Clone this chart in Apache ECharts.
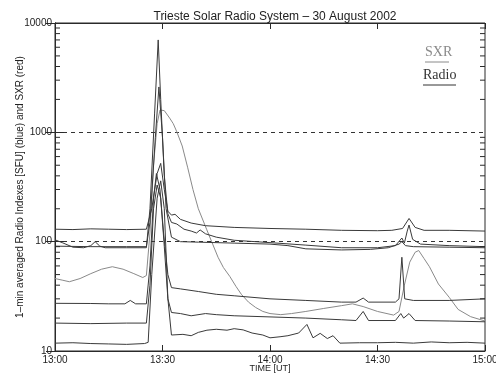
<!DOCTYPE html>
<html>
<head>
<meta charset="utf-8">
<script src="https://cdn.jsdelivr.net/npm/echarts@6/dist/echarts.min.js"></script>
<style>
  html, body { margin: 0; padding: 0; background: #ffffff; }
  #chart { width: 496px; height: 377px; }
</style>
</head>
<body>
<div id="chart"></div>
<script>
// Time is counted in minutes after 13:00 UT; values are flux in SFU.
const xTicks = ['13:00', '13:30', '14:00', '14:30', '15:00'];
const yTicks = [10, 100, 1000, 10000];
const minorTickValues = [20, 30, 40, 50, 60, 70, 80, 90, 200, 300, 400, 500, 600, 700, 800, 900,
  2000, 3000, 4000, 5000, 6000, 7000, 8000, 9000];

// Soft X-ray index
const sxr = [[0,46],[2,44.5],[4,43],[7,46],[10,51],[13,56],[16,59],[19,56],[22,51],[24.5,47],[25.5,49],
  [26.5,120],[27.5,500],[28.5,1200],[29.3,1600],[30.5,1580],[32,1350],[33,1200],[34,1010],[35.5,750],
  [37,480],[38.5,300],[40,200],[42.3,130],[44,95],[45.5,72],[47,58],[48.8,48],[50.5,39],[52,33],[54,28],
  [56,25],[58,23],[60,22],[63,21.5],[66,22],[70,23],[75,24.5],[80,26],[83,27],[86,25.5],[90,23],
  [94.5,21.3],[96,23],[97.5,40],[99,65],[100.5,80],[101.5,83],[103,70],[104.5,59],[107,41],[110,31],
  [112.5,24],[116,20.6],[120,18.8]];

// Radio indexes, one array per frequency channel
const radio1 = [[0,130],[5,129],[10,131],[15,130],[20,129],[25.5,130],[27,200],[28.5,420],[29.5,520],
  [30.5,300],[31.5,190],[32.5,175],[33.5,178],[35,160],[38,148],[42,140],[50,135],[60,132],[70,130],
  [80,127],[90,126],[94,127],[97,132],[98.8,163],[100.5,135],[103,127],[110,127],[120,125]];

const radio2 = [[0,104],[2,98],[5,89],[8,88],[10,92],[11.2,100],[12.5,91],[14,88],[20,88],[25.5,88],
  [26.5,200],[27.8,1500],[28.8,7000],[29.5,2000],[30.5,400],[31.5,180],[32.5,150],[34,145],[36,130],
  [38,125],[39.5,120],[40.5,128],[42,118],[45,110],[50,103],[60,98],[70,93],[80,88],[90,88],[95,92],
  [96.8,108],[97.5,97],[98.3,125],[98.8,142],[99.8,105],[102,95],[110,92],[120,90]];

const radio3 = [[0,91],[10,90],[20,90],[25.5,90],[26.5,150],[28,900],[29,2600],[30,900],[31,200],
  [32.5,110],[35,100],[40,99],[50,97],[60,95],[65,92],[70,86],[80,84],[88,85],[93,88],[96,95],
  [96.8,100],[97.8,92],[100,90],[110,89],[120,88]];

const radio4 = [[0,27.3],[10,27.2],[15,27],[19.5,27],[21,29],[22.5,27],[25.5,27],[26.5,60],[27.5,250],
  [28.3,420],[29.3,300],[30.3,120],[31.5,50],[32.5,38],[35,37],[40,35],[45,33],[50,32],[60,30],[70,29],
  [80,28],[84,28],[86,30.5],[87.5,28],[95,28],[96,30],[96.8,72],[97.6,30],[100,29],[110,29],[120,30]];

const radio5 = [[0,18],[10,17.8],[20,18],[25.5,18],[26.5,40],[27.5,200],[28.5,330],[29.5,250],[30.5,90],
  [31.5,30],[32.5,22.5],[35,22],[38,21],[42,22],[45,21.5],[50,21],[60,20.5],[70,20],[80,19.3],[84,19],
  [86,23],[87.5,19],[95,19],[96.5,22],[97.3,20],[98.8,22],[100.5,19],[110,18.8],[120,18.5]];

const radio6 = [[0,11.8],[5,11.9],[10,11.7],[15,11.6],[20,11.5],[25,11.7],[26,12],[27,50],[28.5,250],
  [29.5,360],[30.5,200],[31.5,30],[32.5,14],[35.7,14.2],[38,13.8],[40,14.8],[42.4,15.5],[45,15.8],
  [48,15.5],[50,16],[52.5,15.6],[55,14.6],[58,14],[60,13.2],[62.8,13.5],[65,13.8],[68,14.6],[70.3,17.5],
  [72,13.2],[74,14.5],[76,13],[77.6,13.8],[79.5,11.8],[85,11.9],[90,11.9],[95,12],[100,11.8],[105,12.1],
  [110,11.9],[115,12],[120,11.8]];

const radioSeries = [radio1, radio2, radio3, radio4, radio5, radio6];

const RADIO_COLOR = '#3a3a3a';
const SXR_COLOR = '#8a8a8a';
const AXIS_COLOR = '#2a2a2a';
const FONT = 'Liberation Sans';

const chart = echarts.init(document.getElementById('chart'), null, { renderer: 'canvas' });

const lineSeries = (data, color) => ({
  type: 'line',
  data: data,
  showSymbol: false,
  symbol: 'none',
  smooth: false,
  lineStyle: { color: color, width: 1 },
  silent: true,
  animation: false,
  z: 3
});

const option = {
  animation: false,
  backgroundColor: '#ffffff',
  title: {
    text: 'Trieste Solar Radio System \u2013 30 August 2002',
    left: 270,
    textAlign: 'center',
    top: 6,
    textStyle: { fontFamily: FONT, fontSize: 12, fontWeight: 'normal', color: '#222' }
  },
  grid: {
    left: 55, right: 11, top: 23, bottom: 26,
    containLabel: false, outerBoundsMode: 'none',
    show: true, borderColor: AXIS_COLOR, borderWidth: 1, backgroundColor: 'transparent'
  },
  xAxis: [
    {
      type: 'value', min: 0, max: 120, interval: 30, position: 'bottom',
      name: 'TIME [UT]', nameLocation: 'middle', nameGap: 13, nameMoveOverlap: false,
      nameTextStyle: { fontFamily: FONT, fontSize: 9, color: '#222' },
      axisLine: { show: true, lineStyle: { color: AXIS_COLOR } },
      axisTick: { show: true, inside: true, length: 6, lineStyle: { color: AXIS_COLOR } },
      axisLabel: { fontFamily: FONT, fontSize: 10, color: '#222', margin: 4,
        formatter: v => xTicks[Math.round(v / 30)] },
      splitLine: { show: false }
    },
    {
      type: 'value', min: 0, max: 120, interval: 30, position: 'top',
      axisLine: { show: true, lineStyle: { color: AXIS_COLOR } },
      axisTick: { show: true, inside: true, length: 6, lineStyle: { color: AXIS_COLOR } },
      axisLabel: { show: false },
      splitLine: { show: false }
    }
  ],
  yAxis: [
    {
      type: 'log', logBase: 10, min: 10, max: 10000, position: 'left',
      name: '1\u2013min averaged Radio Indexes [SFU] (blue) and SXR (red)',
      nameLocation: 'middle', nameGap: 30, nameRotate: 90, nameMoveOverlap: false,
      nameTextStyle: { fontFamily: FONT, fontSize: 10, color: '#222' },
      axisLine: { show: true, lineStyle: { color: AXIS_COLOR } },
      axisTick: { show: true, inside: true, length: 9, lineStyle: { color: AXIS_COLOR } },
      axisLabel: { fontFamily: FONT, fontSize: 10, color: '#222', margin: 3,
        formatter: v => (yTicks.indexOf(Math.round(v)) >= 0 ? String(Math.round(v)) : '') },
      splitLine: { show: true, lineStyle: { color: '#333', width: 1, type: [4, 4] } }
    },
    {
      type: 'log', logBase: 10, min: 10, max: 10000, position: 'right',
      axisLine: { show: true, lineStyle: { color: AXIS_COLOR } },
      axisTick: { show: true, inside: true, length: 9, lineStyle: { color: AXIS_COLOR } },
      axisLabel: { show: false },
      splitLine: { show: false }
    }
  ],
  series: [
    lineSeries(sxr, SXR_COLOR),
    ...radioSeries.map(d => lineSeries(d, RADIO_COLOR)),
    {
      // minor ticks of the logarithmic axis, inside on both sides
      type: 'custom',
      coordinateSystem: 'cartesian2d',
      silent: true,
      clip: false,
      z: 4,
      data: minorTickValues.map(v => [0, v]),
      encode: { x: 0, y: 1 },
      renderItem: function (params, api) {
        const v = api.value(1);
        const pl = api.coord([0, v]);
        const pr = api.coord([120, v]);
        const style = { stroke: AXIS_COLOR, lineWidth: 1 };
        return {
          type: 'group',
          children: [
            { type: 'line', shape: { x1: pl[0], y1: pl[1], x2: pl[0] + 5, y2: pl[1] }, style: style },
            { type: 'line', shape: { x1: pr[0], y1: pr[1], x2: pr[0] - 5, y2: pr[1] }, style: style }
          ]
        };
      }
    }
  ],
  graphic: [
    { type: 'text', left: 425, top: 45, style: { text: 'SXR', font: '14px "Liberation Serif"', fill: SXR_COLOR } },
    { type: 'line', shape: { x1: 425, y1: 62, x2: 449, y2: 62 }, style: { stroke: SXR_COLOR, lineWidth: 1 } },
    { type: 'text', left: 423, top: 68, style: { text: 'Radio', font: '14px "Liberation Serif"', fill: '#333' } },
    { type: 'line', shape: { x1: 423, y1: 85, x2: 456, y2: 85 }, style: { stroke: '#333', lineWidth: 1 } }
  ]
};

chart.setOption(option);
</script>
</body>
</html>
